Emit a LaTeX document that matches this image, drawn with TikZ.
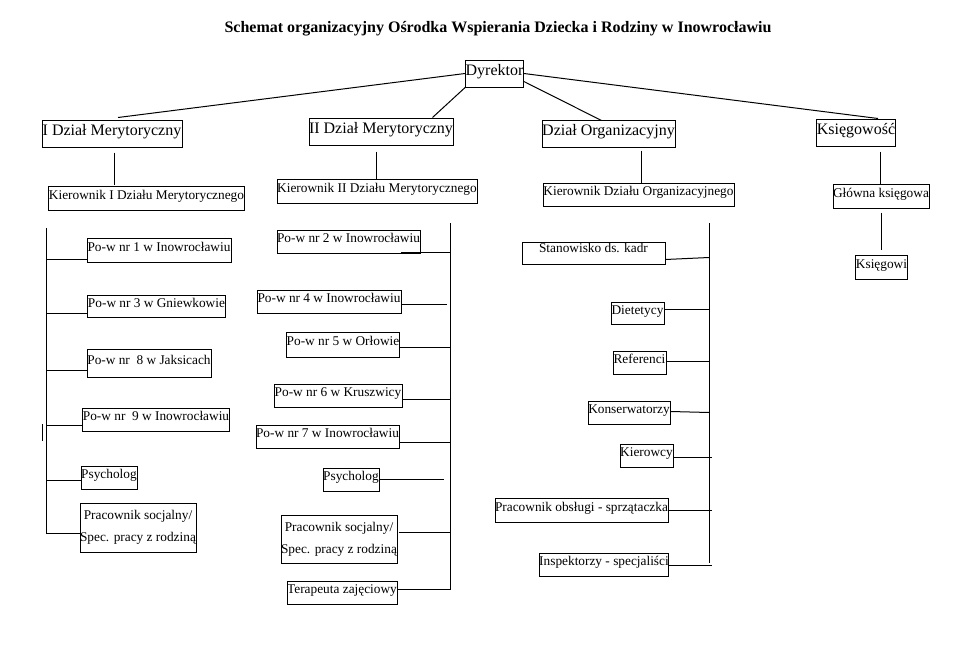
\documentclass[tikz,border=0pt]{standalone}
\usepackage{fontspec}
\setmainfont{Liberation Serif}
\usetikzlibrary{calc}
\tikzset{
  box/.style={draw, line width=0.75pt, inner sep=0pt, font=\fontsize{10}{12}\selectfont},
  tx/.style={text height=7pt, text depth=5pt},
  bigbox/.style={font=\fontsize{12}{14}\selectfont, text height=8.5pt, text depth=5.5pt},
  link/.style={line width=0.75pt},
}
\newcommand{\orgbox}[7][tx]{\node[box,#1,minimum width={(#5-#3)*0.75pt},minimum height={(#6-#4)*0.75pt}] (#2) at ({(#3+#5)/2},{(#4+#6)/2}) {#7};}
\begin{document}
\begin{tikzpicture}[x=0.75pt,y=-0.75pt]
\useasboundingbox (0,0) rectangle (976,646);
\node[font=\bfseries\fontsize{12}{14}\selectfont] (title) at (498,29) {Schemat organizacyjny Ośrodka Wspierania Dziecka i Rodziny w Inowrocławiu};

% top levels
\orgbox[bigbox]{dyr}{466}{60}{523}{87}{Dyrektor}
\orgbox[bigbox]{dz1}{42}{120}{182}{147}{I Dział Merytoryczny}
\orgbox[bigbox]{dz2}{309}{118}{453}{145}{II Dział Merytoryczny}
\orgbox[bigbox]{org}{542}{120}{675}{147}{Dział Organizacyjny}
\orgbox[bigbox]{ksg}{817}{119}{895}{146}{Księgowość}

\orgbox{k1}{49}{186}{244}{210}{Kierownik I Działu Merytorycznego}
\orgbox{k2}{277}{179}{477}{203}{Kierownik II Działu Merytorycznego}
\orgbox{ko}{543}{183}{734}{206}{Kierownik Działu Organizacyjnego}
\orgbox{gk}{833}{184}{929}{208}{Główna księgowa}
\orgbox{ksi}{856}{255}{907}{279}{Księgowi}

% left column
\orgbox{p1}{87}{238}{231}{262}{Po-w nr 1 w Inowrocławiu}
\orgbox{p3}{88}{295}{225}{317}{Po-w nr 3 w Gniewkowie}
\orgbox{p8}{87}{349}{211}{377}{Po-w nr \ 8 w Jaksicach}
\orgbox{p9}{83}{408}{229}{431}{Po-w nr \ 9 w Inowrocławiu}
\orgbox{psy1}{81}{466}{137}{489}{Psycholog}
\orgbox[align=center]{ps1}{80}{503}{196}{552}{Pracownik socjalny/\\[4.5pt]Spec. pracy z rodziną}

% middle column
\orgbox{p2}{277}{230}{420}{253}{Po-w nr 2 w Inowrocławiu}
\orgbox{p4}{257}{290}{401}{313}{Po-w nr 4 w Inowrocławiu}
\orgbox{p5}{287}{332}{399}{357}{Po-w nr 5 w Orłowie}
\orgbox{p6}{274}{384}{402}{407}{Po-w nr 6 w Kruszwicy}
\orgbox{p7}{256}{425}{399}{448}{Po-w nr 7 w Inowrocławiu}
\orgbox{psy2}{323}{468}{379}{491}{Psycholog}
\orgbox[align=center]{ps2}{281}{515}{397}{563}{Pracownik socjalny/\\[4.5pt]Spec. pracy z rodziną}
\orgbox{ter}{287}{581}{397}{604}{Terapeuta zajęciowy}

% right column
\orgbox[text height=7pt, text depth=8pt]{kadr}{522}{242}{665}{264}{Stanowisko ds. kadr}
\orgbox{diet}{611}{302}{664}{324}{Dietetycy}
\orgbox{ref}{613}{351}{666}{374}{Referenci}
\orgbox{kons}{588}{401}{670}{424}{Konserwatorzy}
\orgbox{kier}{620}{444}{673}{467}{Kierowcy}
\orgbox{pob}{495}{498}{668}{522}{Pracownik obsługi - sprzątaczka}
\orgbox{insp}{540}{553}{668}{576}{Inspektorzy - specjaliści}

% director links
\draw[link] (dyr.west) -- ($(dz1.north)+(6,-2)$);
\draw[link] (dyr.south west) -- ($(dz2.north east)+(-21,0)$);
\draw[link] ($(dyr.east)+(0,8)$) -- ($(org.north west)+(60,1)$);
\draw[link] (dyr.east) -- ($(ksg.north)+(22,0)$);

% vertical links
\draw[link] ($(dz1.south west)+(73,5)$) coordinate (v1) -- ($(v1 |- k1.north)+(0,-1)$);
\draw[link] ($(dz2.south west)+(68,6)$) coordinate (v2) -- (v2 |- k2.north);
\draw[link] ($(org.south west)+(100,3)$) coordinate (v3) -- (v3 |- ko.north);
\draw[link] ($(ksg.south west)+(64,5)$) coordinate (v4) -- (v4 |- gk.north);
\draw[link] ($(gk.south west)+(49,4)$) coordinate (v5) -- ($(v5 |- ksi.north)+(0,-5)$);

% left bus
\coordinate (busLt) at (46,228);
\coordinate (busLb) at (46,533);
\draw[link] (busLt) -- (busLb);
\coordinate (tickA) at (42,424);
\coordinate (tickB) at (42,441);
\draw[link] (tickA) -- (tickB);
\coordinate (hl1) at ($(p1.south west)+(0,-3)$);
\coordinate (hl3) at ($(p3.south west)+(0,-4)$);
\coordinate (hl8) at ($(p8.south west)+(0,-7)$);
\coordinate (hl9) at ($(p9.south west)+(0,-6)$);
\coordinate (hlp) at ($(psy1.south west)+(0,-9)$);
\coordinate (hls) at ($(ps1.south west)+(0,-19)$);
\foreach \h in {hl1,hl3,hl8,hl9,hlp,hls} \draw[link] (\h) -- (\h -| busLt);

% middle bus
\coordinate (busMt) at (450,223);
\coordinate (busMb) at (450,590);
\draw[link] (busMt) -- (busMb);
\coordinate (hm2) at ($(p2.south east)+(-20,-1)$);
\coordinate (hm4) at ($(p4.south east)+(0,-9)$);
\coordinate (hm5) at ($(p5.south east)+(0,-10)$);
\coordinate (hm6) at ($(p6.south east)+(0,-8)$);
\coordinate (hm7) at ($(p7.south east)+(0,-6)$);
\coordinate (hmp) at ($(psy2.south east)+(0,-12)$);
\coordinate (hms) at ($(ps2.south east)+(1,-31)$);
\coordinate (hmt) at ($(ter.south east)+(0,-15)$);
\foreach \h in {hm2,hm5,hm6,hm7,hms,hmt} \draw[link] (\h) -- (\h -| busMt);
\draw[link] (hm4) -- ($(hm4 -| busMt)+(-3,0)$);
\draw[link] (hmp) -- ($(hmp -| busMt)+(-6,0)$);

% right bus
\coordinate (busRt) at (709,223);
\coordinate (busRb) at (709,563);
\draw[link] (busRt) -- (busRb);
\coordinate (hr1) at ($(kadr.south east)+(0,-5)$);
\draw[link] (hr1) -- ($(hr1 -| busRt)+(0,-2)$);
\coordinate (hr2) at ($(diet.south east)+(0,-15)$);
\coordinate (hr3) at ($(ref.south east)+(0,-13)$);
\coordinate (hr4) at ($(kons.south east)+(0,-13)$);
\foreach \h in {hr2,hr3} \draw[link] (\h) -- (\h -| busRt);
\draw[link] (hr4) -- ($(hr4 -| busRt)+(0,1)$);
\coordinate (hr5) at ($(kier.south east)+(0,-10)$);
\coordinate (hr6) at ($(pob.south east)+(0,-12)$);
\coordinate (hr7) at ($(insp.south east)+(0,-11)$);
\foreach \h in {hr5,hr6,hr7} \draw[link] (\h) -- ($(\h -| busRt)+(3,0)$);
\end{tikzpicture}
\end{document}
